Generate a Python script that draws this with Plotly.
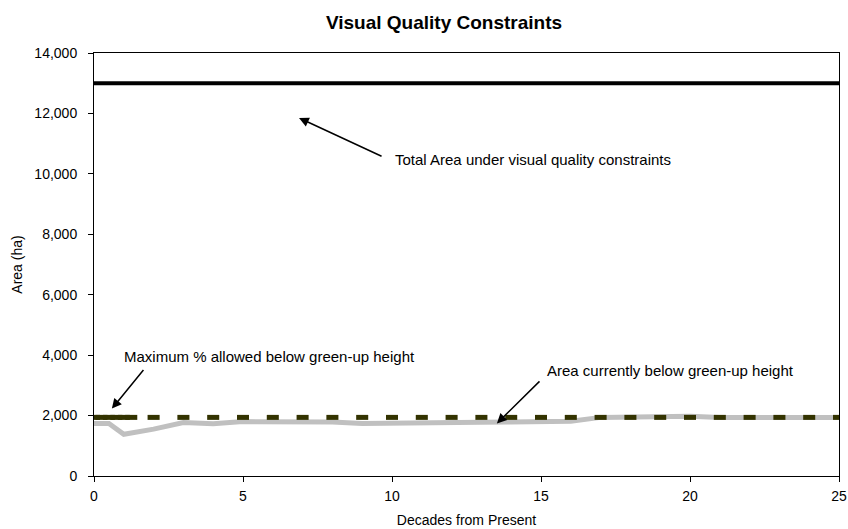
import plotly.graph_objects as go

# ---- data ----
decades = [0, 0.5, 1] + list(range(2, 26))
area_below = [1740, 1740, 1380, 1550, 1770, 1730, 1800, 1800, 1800, 1790, 1740,
              1740, 1770, 1780, 1780, 1790, 1810, 1810, 1940, 1960, 1990, 1980,
              1940, 1930, 1930, 1930, 1940]
max_decades = [0, 0.25, 0.5, 0.75, 1, 1.25] + list(range(2, 26))
max_allowed = [1940] * len(max_decades)
total_decades = [0, 25]
total_area = [13000, 13000]

x_ticks = [0, 5, 10, 15, 20, 25]
y_ticks = [0, 2000, 4000, 6000, 8000, 10000, 12000, 14000]

FONT = "Arial, 'Liberation Sans', sans-serif"

fig = go.Figure()
fig.add_trace(go.Scatter(x=total_decades, y=total_area, mode="lines",
                         line=dict(color="#000000", width=4), name="Total Area"))
fig.add_trace(go.Scatter(x=decades, y=area_below, mode="lines",
                         line=dict(color="#c0c0c0", width=5), name="Area below"))
fig.add_trace(go.Scatter(x=max_decades, y=max_allowed, mode="markers",
                         marker=dict(symbol="line-ew", size=8.6, color="#333300",
                                     line=dict(color="#333300", width=5)),
                         name="Maximum allowed"))

arrow = dict(showarrow=True, arrowhead=2, arrowsize=1.3, arrowwidth=1.5,
             arrowcolor="#000000", axref="x", ayref="y", text="")
fig.add_annotation(x=6.88, y=11850, ax=9.7, ay=10560, **arrow)
fig.add_annotation(x=0.6, y=2230, ax=1.7, ay=3560, **arrow)
fig.add_annotation(x=13.52, y=1740, ax=15.0, ay=3180, **arrow)

txt = dict(showarrow=False, font=dict(family=FONT, size=15, color="#000000"),
           xanchor="left", yanchor="middle")
fig.add_annotation(x=10.05, y=10460, text="Total Area under visual quality constraints", **txt)
fig.add_annotation(x=0.95, y=3960, text="Maximum % allowed below green-up height", **txt)
fig.add_annotation(x=15.15, y=3500, text="Area currently below green-up height", **txt)

axis_common = dict(showline=True, linecolor="#000000", linewidth=1, mirror=True,
                   showgrid=False, zeroline=False, ticks="outside", ticklen=5,
                   tickcolor="#000000", automargin=False,
                   tickfont=dict(family=FONT, size=14, color="#000000"))

fig.update_layout(
    width=848, height=529,
    margin=dict(l=94, r=9, t=53, b=53),
    paper_bgcolor="#ffffff", plot_bgcolor="#ffffff",
    showlegend=False,
    font=dict(family=FONT, color="#000000"),
    title=dict(text="<b>Visual Quality Constraints</b>", x=444 / 848, xanchor="center",
               y=1 - 22 / 529, yanchor="middle", xref="container", yref="container",
               font=dict(family=FONT, size=19, color="#000000")),
    xaxis=dict(range=[0, 25], tickvals=x_ticks, ticktext=[str(v) for v in x_ticks],
               ticklabelstandoff=2,
               title=dict(text="Decades from Present", standoff=12,
                          font=dict(family=FONT, size=14, color="#000000")),
               **axis_common),
    yaxis=dict(range=[0, 14000], tickvals=y_ticks,
               ticktext=[f"{v:,}" for v in y_ticks], ticklabelstandoff=8,
               title=dict(text="Area (ha)", standoff=8,
                          font=dict(family=FONT, size=14, color="#000000")),
               **axis_common),
)

fig.write_html("out.html")
